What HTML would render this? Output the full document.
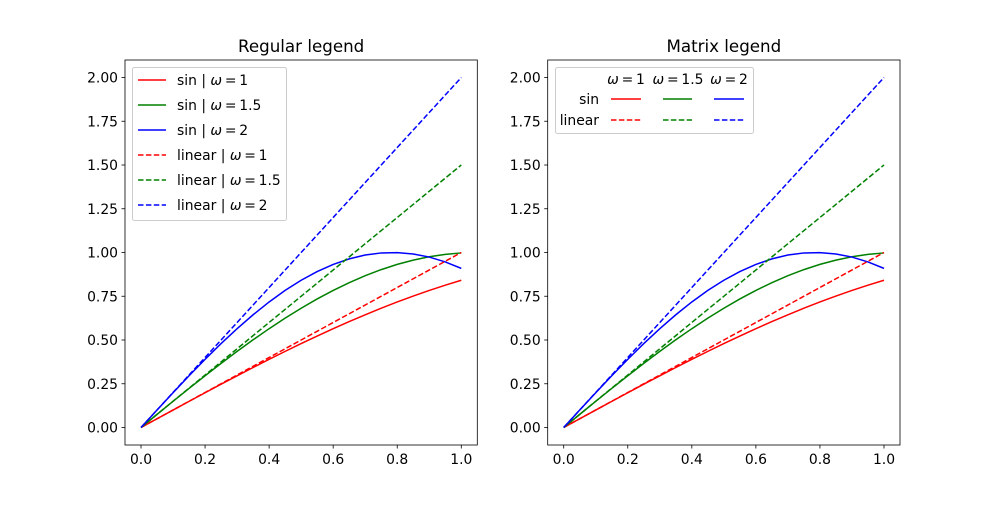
<!DOCTYPE html>
<html><head><meta charset="utf-8"><style>
body{margin:0;background:#fff}
svg{font-family:"DejaVu Sans","Liberation Sans",sans-serif;font-size:13.9px}
</style></head><body>
<svg id="fig" width="1000" height="500" xmlns="http://www.w3.org/2000/svg"></svg>
<script>
const xs = [0,0.05,0.1,0.15,0.2,0.25,0.3,0.35,0.4,0.45,0.5,0.55,0.6,0.65,0.7,0.75,0.8,0.85,0.9,0.95,1.0];
const sinW1 = [0,0.04998,0.09983,0.14944,0.19867,0.24740,0.29552,0.34290,0.38942,0.43497,0.47943,0.52269,0.56464,0.60519,0.64422,0.68164,0.71736,0.75128,0.78333,0.81342,0.84147];
const sinW15 = [0,0.07493,0.14944,0.22311,0.29552,0.36627,0.43497,0.50121,0.56464,0.62489,0.68164,0.73457,0.78333,0.82770,0.86742,0.90227,0.93204,0.95657,0.97572,0.98939,0.99749];
const sinW2 = [0,0.09983,0.19867,0.29552,0.38942,0.47943,0.56464,0.64422,0.71736,0.78333,0.84147,0.89121,0.93204,0.96356,0.98545,0.99749,0.99957,0.99166,0.97385,0.94630,0.90930];
const linX = [0,1];
const linW1 = [0,1];
const linW15 = [0,1.5];
const linW2 = [0,2];
const xTicks = [0,0.2,0.4,0.6,0.8,1.0];
const xTickLabels = ["0.0","0.2","0.4","0.6","0.8","1.0"];
const yTicks = [0,0.25,0.5,0.75,1,1.25,1.5,1.75,2];
const yTickLabels = ["0.00","0.25","0.50","0.75","1.00","1.25","1.50","1.75","2.00"];
const wLabels = ["1","1.5","2"];

const NS="http://www.w3.org/2000/svg", svg=document.getElementById('fig');
function mk(tag,attrs,parent,text){const e=document.createElementNS(NS,tag);for(const k in attrs)e.setAttribute(k,attrs[k]);if(text!==undefined)e.textContent=text;(parent||svg).appendChild(e);return e;}
function omega(t,val){mk('tspan',{'font-style':'italic'},t,'ω');mk('tspan',{},t,'\u2009=\u2009'+val);}

const colors=['#ff0000','#008000','#0000ff'];
const sinSeries=[sinW1,sinW15,sinW2], linSeries=[linW1,linW15,linW2];

function axes(L,title,key){
  const R=L+352.3,T=60,B=445;
  const X=v=>L+(v+0.05)/1.1*(R-L), Y=v=>B-(v+0.1)/2.2*(B-T);
  const g=mk('g',{});
  
  
  for(let i=0;i<3;i++){
    const p=mk('polyline',{points:xs.map((x,j)=>X(x)+','+Y(sinSeries[i][j])).join(' '),fill:'none',stroke:colors[i],'stroke-width':1.5},g);
    
    
  }
  for(let i=0;i<3;i++){
    const p=mk('polyline',{points:linX.map((x,j)=>X(x)+','+Y(linSeries[i][j])).join(' '),fill:'none',stroke:colors[i],'stroke-width':1.5,'stroke-dasharray':'5.5,2.4'},g);
    
    
  }
  mk('rect',{x:L,y:T,width:R-L,height:B-T,fill:'none',stroke:'#000','stroke-width':0.8},g);
  xTicks.forEach((v,i)=>{mk('line',{x1:X(v),x2:X(v),y1:B,y2:B+3.5,stroke:'#000','stroke-width':0.8},g);
    const t=mk('text',{x:X(v),y:B+19,'text-anchor':'middle'},g,xTickLabels[i]);
    });
  yTicks.forEach((v,i)=>{mk('line',{x1:L-3.5,x2:L,y1:Y(v),y2:Y(v),stroke:'#000','stroke-width':0.8},g);
    const t=mk('text',{x:L-7,y:Y(v)+5,'text-anchor':'end'},g,yTickLabels[i]);
    });
  const tt=mk('text',{x:(L+R)/2,y:52,'text-anchor':'middle','font-size':'16.7px'},g,title);
  
}
axes(125,'Regular legend','left');
axes(547.7,'Matrix legend','right');

const lg=mk('g',{});


mk('rect',{x:132.5,y:67.5,width:154,height:153,rx:2,fill:'#fff','fill-opacity':0.8,stroke:'#ccc'},lg);
for(let k=0;k<6;k++){
  const i=k%3,y=80+k*25,dash=k>=3;
  mk('line',{x1:138,x2:166,y1:y,y2:y,stroke:colors[i],'stroke-width':1.5,'stroke-dasharray':dash?'5.5,2.4':'none'},lg);
  const t=mk('text',{x:177,y:y+5},lg,(dash?'linear':'sin')+' | ');
  omega(t,wLabels[i]);
  
}
const mg=mk('g',{});


mk('rect',{x:555.5,y:67.5,width:198,height:66,rx:2,fill:'#fff','fill-opacity':0.8,stroke:'#ccc'},mg);
const colX=[[611,641],[663,692],[714,744]], hdrX=[626,678,729];
for(let i=0;i<3;i++){
  const t=mk('text',{x:hdrX[i],y:84,'text-anchor':'middle'},mg);omega(t,wLabels[i]);
  
  mk('line',{x1:colX[i][0],x2:colX[i][1],y1:99,y2:99,stroke:colors[i],'stroke-width':1.5},mg);
  mk('line',{x1:colX[i][0],x2:colX[i][1],y1:120,y2:120,stroke:colors[i],'stroke-width':1.5,'stroke-dasharray':'5.5,2.4'},mg);
}
const r1=mk('text',{x:599,y:104,'text-anchor':'end'},mg,'sin');

const r2=mk('text',{x:599,y:125,'text-anchor':'end'},mg,'linear');

</script>
</body></html>
